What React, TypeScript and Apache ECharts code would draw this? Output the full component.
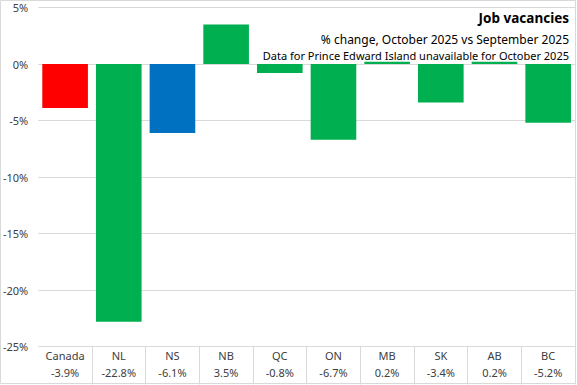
import React, { useEffect, useRef } from "react";
import * as echarts from "echarts";

const categories = ["Canada", "NL", "NS", "NB", "QC", "ON", "MB", "SK", "AB", "BC"];
const values = [-3.9, -22.8, -6.1, 3.5, -0.8, -6.7, 0.2, -3.4, 0.2, -5.2];
const barColors = ["#FF0000", "#00B050", "#0070C0", "#00B050", "#00B050", "#00B050", "#00B050", "#00B050", "#00B050", "#00B050"];
const yTicks = { min: -25, max: 5, interval: 5 };
const titleText = "Job vacancies";
const subtitle1 = "% change, October 2025 vs September 2025";
const subtitle2 = "Data for Prince Edward Island unavailable for October 2025";

const FONT = "'Noto Sans', sans-serif";

export default function App() {
  const ref = useRef<HTMLDivElement>(null);
  useEffect(() => {
    const chart = echarts.init(ref.current!, null, { renderer: "svg" });
    chart.setOption({
      animation: false,
      textStyle: { fontFamily: FONT },
      title: [
        { text: titleText, right: 3, top: 6, textStyle: { fontSize: 13.5, fontWeight: "bold", color: "#000", fontFamily: FONT } },
        { text: subtitle1, right: 3, top: 28, textStyle: { fontSize: 12, fontWeight: "normal", color: "#000", fontFamily: FONT } },
        { text: subtitle2, right: 3, top: 45, textStyle: { fontSize: 11, fontWeight: "normal", color: "#000", fontFamily: FONT } },
      ],
      graphic: [
        { type: "rect", shape: { x: 0.5, y: 0.5, width: 575, height: 383 }, style: { fill: "none", stroke: "#d9d9d9", lineWidth: 1 }, silent: true, z: -1 },
      ],
      grid: { left: 38, right: 2, top: 7.5, bottom: 38.5, containLabel: false },
      xAxis: {
        type: "category",
        data: categories,
        position: "bottom",
        axisLine: { show: false, onZero: false },
        axisTick: { show: true, length: 38, lineStyle: { color: "#d9d9d9" }, interval: (i: number) => i !== 0 },
        axisLabel: {
          margin: 0,
          interval: 0,
          formatter: (v: string, i: number) => `{n|${v}}\n{v|${values[i].toFixed(1)}%}`,
          rich: {
            n: { fontSize: 11, color: "#404040", lineHeight: 17, fontFamily: FONT },
            v: { fontSize: 11, color: "#404040", lineHeight: 17, fontFamily: FONT },
          },
        },
      },
      yAxis: {
        type: "value",
        min: yTicks.min,
        max: yTicks.max,
        interval: yTicks.interval,
        axisLine: { show: false },
        axisTick: { show: false },
        axisLabel: { formatter: "{value}%", color: "#404040", fontSize: 11, margin: 10, fontFamily: FONT },
        splitLine: { lineStyle: { color: "#d9d9d9", width: 1 } },
      },
      series: [
        {
          type: "bar",
          data: values.map((v, i) => ({ value: v, itemStyle: { color: barColors[i] } })),
          barCategoryGap: "15%",
        },
      ],
    });
    return () => chart.dispose();
  }, []);
  return <div ref={ref} style={{ position: "fixed", left: 0, top: 0, width: 577, height: 385, background: "#fff" }} />;
}
